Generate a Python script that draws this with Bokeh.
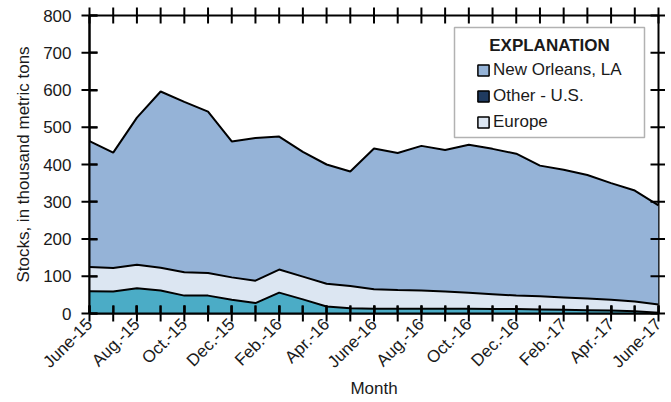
import math
from bokeh.plotting import figure
from bokeh.models import (ColumnDataSource, LinearAxis, FixedTicker, Range1d,
                          Legend, LegendItem, Label, BoxAnnotation)
from bokeh.embed import file_html
from bokeh.resources import INLINE

# ---- data (thousand metric tons) ----
months = ["June-15", "July-15", "Aug.-15", "Sept.-15", "Oct.-15", "Nov.-15",
          "Dec.-15", "Jan.-16", "Feb.-16", "Mar.-16", "Apr.-16", "May-16",
          "June-16", "July-16", "Aug.-16", "Sept.-16", "Oct.-16", "Nov.-16",
          "Dec.-16", "Jan.-17", "Feb.-17", "Mar.-17", "Apr.-17", "May-17",
          "June-17"]
other_us = [60, 59, 68, 62, 48, 48, 37, 28, 56, 38, 19, 14, 13, 13, 13, 13,
            13, 12, 12, 11, 10, 9, 8, 6, 2]
europe = [65, 63, 63, 61, 63, 61, 60, 60, 62, 61, 61, 60, 52, 50, 49, 46,
          43, 40, 36, 35, 33, 31, 29, 26, 22]
new_orleans = [338, 310, 395, 473, 457, 433, 365, 383, 357, 335, 320, 307,
               378, 368, 388, 380, 397, 390, 381, 351, 343, 332, 313, 298, 266]
y_ticks = [0, 100, 200, 300, 400, 500, 600, 700, 800]
label_every = 2

BLUE = "#95B3D7"
LIGHT = "#DCE6F2"
TEAL = "#4BACC6"
NAVY = "#1F3A5F"
FONT = "Liberation Sans"
FS = "17px"
TICK = 16  # tick marker length

x = list(range(len(months)))
src = ColumnDataSource(dict(x=x, other=other_us, europe=europe, nola=new_orleans))
x0, x1 = 0, len(months) - 1
y0, y1 = y_ticks[0], y_ticks[-1]

p = figure(width=665, height=401, output_backend="svg", toolbar_location=None,
           x_range=Range1d(x0, x1), y_range=Range1d(y0, y1),
           x_axis_location=None, y_axis_location=None,
           min_border_left=89, min_border_right=7, min_border_top=15,
           min_border_bottom=88)
p.outline_line_color = "black"
p.outline_line_width = 2
p.grid.visible = False

stack = ["other", "europe", "nola"]
p.varea_stack(stack, x="x", source=src, color=[TEAL, LIGHT, BLUE])
p.vline_stack(stack, x="x", source=src, line_color="black", line_width=2)

# tick marks on all four sides, drawn last (overlay level)
p.scatter(x=[x0] * len(y_ticks) + [x1] * len(y_ticks), y=y_ticks + y_ticks,
          marker="dash", size=TICK, line_color="black", line_width=2,
          level="overlay")
p.scatter(x=x + x, y=[y0] * len(x) + [y1] * len(x), marker="dash",
          angle=math.pi / 2, size=TICK, line_color="black", line_width=2,
          level="overlay")

major_x = x[::label_every]
overrides = {i: months[i] for i in major_x}


def style(ax):
    ax.axis_line_width = 2
    ax.axis_line_color = "black"
    ax.major_tick_in = 8
    ax.major_tick_out = 0
    ax.minor_tick_in = 8
    ax.minor_tick_out = 0
    ax.major_tick_line_width = 2
    ax.minor_tick_line_width = 2
    ax.major_tick_line_color = "black"
    ax.minor_tick_line_color = "black"
    ax.major_label_text_font = FONT
    ax.major_label_text_font_size = FS
    ax.major_label_text_color = "#1a1a1a"
    ax.axis_label_text_font = FONT
    ax.axis_label_text_font_size = FS
    ax.axis_label_text_font_style = "normal"
    ax.axis_label_text_color = "#1a1a1a"


bottom = LinearAxis(ticker=FixedTicker(ticks=major_x, minor_ticks=x),
                    major_label_overrides=overrides,
                    major_label_orientation=math.pi / 4, axis_label="Month")
style(bottom)
bottom.major_label_standoff = 8
bottom.axis_label_standoff = -2
p.add_layout(bottom, "below")

left = LinearAxis(ticker=FixedTicker(ticks=y_ticks),
                  axis_label="Stocks, in thousand metric tons")
style(left)
left.major_label_standoff = 18
left.axis_label_standoff = 7
p.add_layout(left, "left")

# ---- legend ----
box = BoxAnnotation(left=365, right=555, bottom=176, top=286,
                    left_units="screen", right_units="screen",
                    bottom_units="screen", top_units="screen",
                    fill_color="white", fill_alpha=1.0,
                    line_color="black", line_width=1.5)
p.add_layout(box)

title = Label(x=460, y=268, x_units="screen", y_units="screen",
              text="EXPLANATION", text_align="center", text_baseline="middle",
              text_font=FONT, text_font_size=FS, text_font_style="bold",
              text_color="#1a1a1a")
p.add_layout(title)

nan = float("nan")
r_no = p.quad(left=[nan], right=[nan], top=[nan], bottom=[nan],
              fill_color=BLUE, line_color="black", line_width=1.5)
r_us = p.quad(left=[nan], right=[nan], top=[nan], bottom=[nan],
              fill_color=NAVY, line_color="black", line_width=1.5)
r_eu = p.quad(left=[nan], right=[nan], top=[nan], bottom=[nan],
              fill_color=LIGHT, line_color="black", line_width=1.5)

legend = Legend(items=[LegendItem(label="New Orleans, LA", renderers=[r_no]),
                       LegendItem(label="Other - U.S.", renderers=[r_us]),
                       LegendItem(label="Europe", renderers=[r_eu])],
                location=(387, 181), padding=0, margin=0, spacing=6,
                label_height=20, glyph_width=14, glyph_height=14,
                label_standoff=3, border_line_alpha=0,
                background_fill_alpha=0, label_text_font=FONT,
                label_text_font_size=FS, label_text_color="#1a1a1a")
p.add_layout(legend, "center")

open("out.html", "w").write(file_html(p, INLINE))
